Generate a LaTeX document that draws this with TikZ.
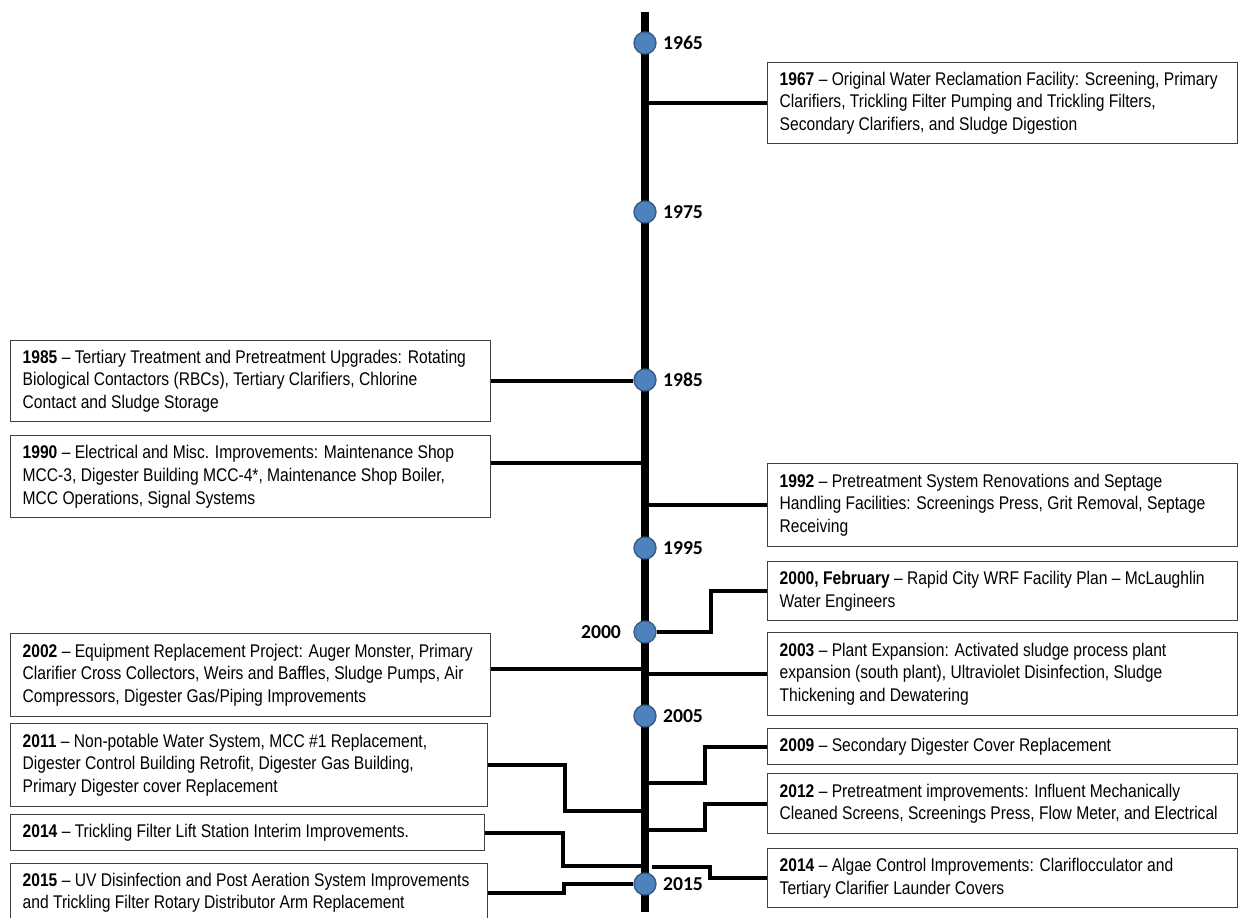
\documentclass[tikz,border=0pt]{standalone}
\usepackage{fontspec}
\setmainfont{Liberation Sans}[FakeStretch=0.85]
\newfontfamily\yearfont{Carlito}
\usetikzlibrary{positioning, calc}

\definecolor{dotfill}{HTML}{4F81BD}
\definecolor{dotline}{HTML}{385D8A}

\begin{document}
\begin{tikzpicture}[
    x=0.02cm, y=-0.02cm,
    box/.style={draw=black!75, line width=0.8pt, fill=white, anchor=north west, align=flush left, inner xsep=0.24cm, inner ysep=0pt, text width=8.92cm, minimum width=9.4cm, font=\fontsize{10.45}{13}\selectfont},
    lbox/.style={box, text width=9.12cm, minimum width=9.6cm},
    dot/.style={circle, fill=dotfill, draw=dotline, line width=0.8pt, minimum size=0.44cm, inner sep=0pt},
    yr/.style={font=\yearfont\bfseries\fontsize{11.2}{13}\selectfont, inner sep=0pt},
    link/.style={line width=2.2pt},
    axis/.style={line width=4.6pt}
]
\useasboundingbox (0,0) rectangle (1238,918);
\clip (0,0) rectangle (1238,918);

% timeline
\coordinate (top) at (645,12);
\coordinate (bot) at (645,912);
\draw[axis] (top) -- (bot);

% boxes, right side
\node[box, minimum height=1.62cm] (b1967) at (767,62) {\textbf{1967} – Original Water Reclamation Facility: Screening, Primary\\Clarifiers, Trickling Filter Pumping and Trickling Filters,\\Secondary Clarifiers, and Sludge Digestion};
\node[box, minimum height=1.66cm] (b1992) at (767,463) {\textbf{1992} – Pretreatment System Renovations and Septage\\Handling Facilities: Screenings Press, Grit Removal, Septage\\Receiving};
\node[box, minimum height=1.18cm] (b2000) at (767,561) {\textbf{2000, February} – Rapid City WRF Facility Plan – McLaughlin\\Water Engineers};
\node[box, minimum height=1.66cm] (b2003) at (767,632) {\textbf{2003} – Plant Expansion: Activated sludge process plant\\expansion (south plant), Ultraviolet Disinfection, Sludge\\Thickening and Dewatering};
\node[box, minimum height=0.72cm] (b2009) at (767,728) {\textbf{2009} – Secondary Digester Cover Replacement};
\node[box, minimum height=1.2cm] (b2012) at (767,773) {\textbf{2012} – Pretreatment improvements: Influent Mechanically\\Cleaned Screens, Screenings Press, Flow Meter, and Electrical};
\node[box, minimum height=1.18cm] (b2014b) at (767,848) {\textbf{2014} – Algae Control Improvements: Clariflocculator and\\Tertiary Clarifier Launder Covers};

% boxes, left side
\node[lbox, minimum height=1.62cm] (b1985) at (10,340) {\textbf{1985} – Tertiary Treatment and Pretreatment Upgrades: Rotating\\Biological Contactors (RBCs), Tertiary Clarifiers, Chlorine\\Contact and Sludge Storage};
\node[lbox, minimum height=1.64cm] (b1990) at (10,435) {\textbf{1990} – Electrical and Misc. Improvements: Maintenance Shop\\MCC-3, Digester Building MCC-4*, Maintenance Shop Boiler,\\MCC Operations, Signal Systems};
\node[lbox, minimum height=1.66cm] (b2002) at (10,633) {\textbf{2002} – Equipment Replacement Project: Auger Monster, Primary\\Clarifier Cross Collectors, Weirs and Baffles, Sludge Pumps, Air\\Compressors, Digester Gas/Piping Improvements};
\node[lbox, minimum height=1.66cm, text width=9.06cm, minimum width=9.54cm] (b2011) at (10,723) {\textbf{2011} – Non-potable Water System, MCC \#1 Replacement,\\Digester Control Building Retrofit, Digester Gas Building,\\Primary Digester cover Replacement};
\node[lbox, minimum height=0.72cm, text width=9cm, minimum width=9.48cm] (b2014a) at (10,814) {\textbf{2014} – Trickling Filter Lift Station Interim Improvements.};
\node[lbox, minimum height=1.16cm, text width=9.06cm, minimum width=9.54cm] (b2015) at (10,863) {\textbf{2015} – UV Disinfection and Post Aeration System Improvements\\and Trickling Filter Rotary Distributor Arm Replacement};

% year dots
\foreach \yr/\py in {1965/43, 1975/212, 1985/380, 1995/548, 2005/716, 2015/884} {
    \node[dot] (y\yr) at (645,\py) {};
    \node[yr, right=0.12cm of y\yr] (l\yr) {\yr};
}
\node[dot] (y2000) at (645,632) {};
\node[yr, left=0.24cm of y2000] (l2000) {2000};

% connectors
\draw[link] (b1967.west) -- (b1967.west -| top);
\draw[link] (b1985.east) -- (b1985.east -| y1985.west);
\draw[link] ([yshift=0.28cm]b1990.east) -- ([yshift=0.28cm]b1990.east -| top);
\draw[link] (b1992.west) -- (b1992.west -| top);
\draw[link] (y2000) -- ++(66,0) |- (b2000.west);
\draw[link] ([yshift=0.12cm]b2002.east) -- ([yshift=0.12cm]b2002.east -| top);
\draw[link] (b2003.west) -- (b2003.west -| top);
\draw[link] (b2009.west) -- ++(-62,0) |- (top |- 0,783);
\draw[link] (b2012.west) -- ++(-62,0) |- (top |- 0,830);
\draw[link] (b2014b.west) -- ++(-57,0) |- (652,867);
\draw[link] (b2011.east) -- ++(77,0) |- (top |- 0,811);
\draw[link] (b2014a.east) -- ++(78,0) |- (top |- 0,866);
\draw[link] (b2015.east) -- ++(76,0) |- (y2015);
\end{tikzpicture}
\end{document}
